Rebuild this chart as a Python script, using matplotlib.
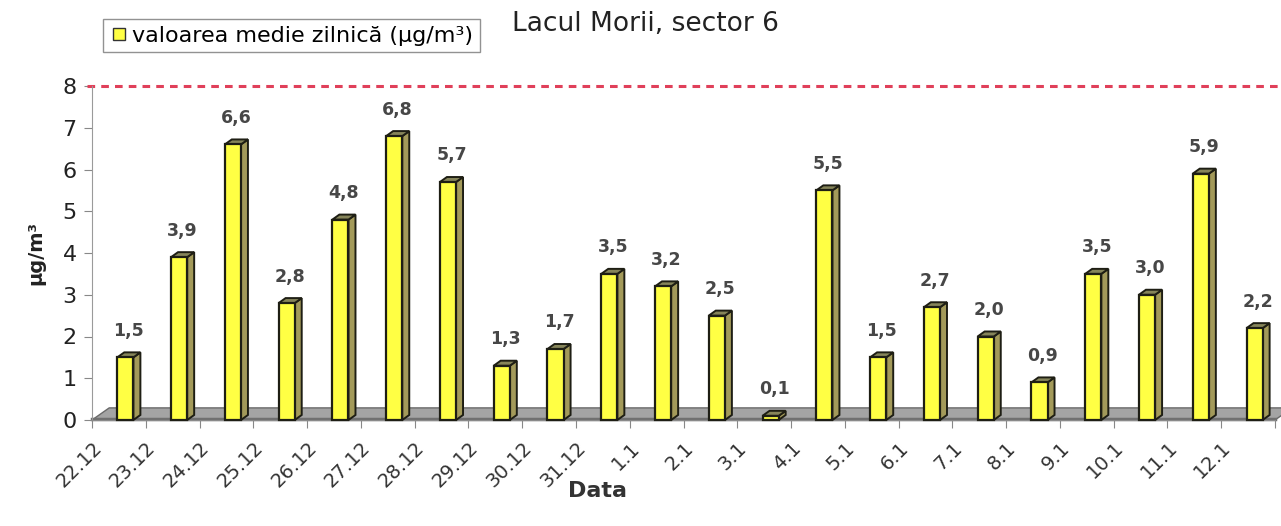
import numpy as np
import matplotlib.pyplot as plt
from matplotlib.patches import Polygon, Rectangle
from matplotlib.lines import Line2D

plt.rcParams['font.family'] = ['DejaVu Sans']

# daily mean values (ug/m3)
dates = ["22.12", "23.12", "24.12", "25.12", "26.12", "27.12", "28.12", "29.12",
         "30.12", "31.12", "1.1", "2.1", "3.1", "4.1", "5.1", "6.1", "7.1", "8.1",
         "9.1", "10.1", "11.1", "12.1"]
values = [1.5, 3.9, 6.6, 2.8, 4.8, 6.8, 5.7, 1.3, 1.7, 3.5, 3.2, 2.5, 0.1, 5.5,
          1.5, 2.7, 2.0, 0.9, 3.5, 3.0, 5.9, 2.2]
limit = 8
legend_label = "valoarea medie zilnică (µg/m³)"
title = "Lacul Morii, sector 6"

fig = plt.figure(figsize=(12.81, 5.26), dpi=100)
ax = fig.add_axes([92 / 1281, 106 / 526, (1275 - 92) / 1281, (420 - 86) / 526])

n = len(values)
ax.set_xlim(0, n)
ax.set_ylim(0, 8)

# 3d look: depth offsets in data units
dx, dy = 0.13, 0.12
fdx, fdy = 0.32, 0.29

# floor
floor = Polygon([(0, 0), (n, 0), (n + fdx, fdy), (fdx, fdy)], closed=True,
                facecolor="#a4a4a4", edgecolor="#6a6a6a", lw=1, clip_on=False, zorder=1)
ax.add_patch(floor)
ax.add_line(Line2D([0, n], [0.02, 0.02], color="#707070", lw=2.5, zorder=1.5,
                   clip_on=False))

bar_w = 0.3
for i, v in enumerate(values):
    x0 = i + 0.47
    x1 = x0 + bar_w
    # side + top faces, then front
    side = Polygon([(x1, 0), (x1 + dx, dy), (x1 + dx, v + dy), (x1, v)], closed=True,
                   facecolor="#a39a5a", edgecolor="#1e1e14", lw=1.4, zorder=3, clip_on=False)
    top = Polygon([(x0, v), (x1, v), (x1 + dx, v + dy), (x0 + dx, v + dy)], closed=True,
                  facecolor="#86855a", edgecolor="#1e1e14", lw=1.4, zorder=3, clip_on=False)
    front = Rectangle((x0, 0), bar_w, v, facecolor="#ffff44", edgecolor="#1e1e14",
                      lw=1.6, zorder=4, clip_on=False)
    ax.add_patch(side)
    ax.add_patch(top)
    ax.add_patch(front)
    ax.text(x0 + (bar_w + dx) / 2, v + dy + 0.3, f"{v:.1f}".replace(".", ","),
            ha="center", va="bottom", fontsize=12.5, fontweight="bold", color="#474747",
            zorder=5)

# limit line
ax.add_line(Line2D([-0.1, n + 0.2], [limit, limit], color="#e0405a", lw=2.2,
                   dashes=(2.5, 2), clip_on=False, zorder=2))

for s in ["top", "right"]:
    ax.spines[s].set_visible(False)
ax.spines["left"].set_color("#9a9a9a")
ax.spines["bottom"].set_color("#8a8a8a")

ax.set_xticks(np.arange(n + 1))
ax.set_xticklabels(dates + [""], rotation=45, ha="right", va="top",
                   rotation_mode="anchor", fontsize=14, color="#333333")
ax.set_yticks(range(0, 9))
ax.tick_params(axis="y", labelsize=16, colors="#222222", length=6, color="#888888", pad=5)
ax.tick_params(axis="x", length=6, color="#888888", pad=7)
for lbl in ax.get_xticklabels():
    lbl.set_color("#333333")

fig.text(598 / 1281, 1 - 491 / 526, "Data", fontsize=16, fontweight="bold",
         color="#333333", ha="center", va="center")
ax.set_ylabel("µg/m³", fontsize=14, fontweight="bold", color="#222222", labelpad=12)

# legend box
leg_handle = Line2D([], [], marker="s", ls="none", markersize=9,
                    markerfacecolor="#ffff44", markeredgecolor="#333333")
fig.legend([leg_handle], [legend_label], loc="upper left",
           bbox_to_anchor=(92 / 1281, 1 - 8 / 526), fontsize=16, frameon=True,
           fancybox=False, edgecolor="#777777", handletextpad=0.2, borderpad=0.3,
           handlelength=0.8)

fig.text(512 / 1281, 1 - 24 / 526, title, fontsize=19, color="#222222",
         ha="left", va="center")

fig.savefig("out.png", dpi=100)
